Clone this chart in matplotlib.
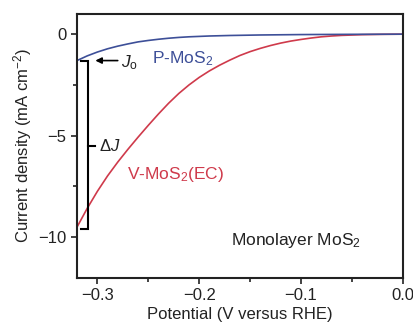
import matplotlib
matplotlib.use("Agg")
import matplotlib.pyplot as plt
from matplotlib.ticker import MultipleLocator

plt.rcParams["font.family"] = ["Liberation Sans", "DejaVu Sans"]
plt.rcParams["mathtext.fontset"] = "custom"
plt.rcParams["mathtext.rm"] = "Liberation Sans"
plt.rcParams["mathtext.it"] = "Liberation Sans:italic"

# data (V vs RHE, mA cm^-2)
v_mos2_ec_V = [-0.32, -0.31, -0.30, -0.29, -0.28, -0.27, -0.26, -0.25, -0.24, -0.23,
               -0.22, -0.21, -0.20, -0.19, -0.18, -0.17, -0.16, -0.15, -0.14, -0.13,
               -0.12, -0.11, -0.10, -0.09, -0.08, -0.07, -0.06, -0.04, -0.02, 0.0]
v_mos2_ec_J = [-9.5, -8.58, -7.74, -6.98, -6.30, -5.67, -5.07, -4.49, -3.93, -3.40,
               -2.92, -2.50, -2.13, -1.81, -1.53, -1.28, -1.05, -0.86, -0.70, -0.56,
               -0.44, -0.34, -0.26, -0.19, -0.13, -0.09, -0.06, -0.025, -0.008, 0.0]
p_mos2_V = [-0.32, -0.31, -0.30, -0.29, -0.28, -0.27, -0.26, -0.25, -0.24, -0.23,
            -0.22, -0.21, -0.19, -0.17, -0.14, -0.10, -0.05, 0.0]
p_mos2_J = [-1.3, -1.07, -0.88, -0.72, -0.59, -0.48, -0.38, -0.31, -0.25, -0.20,
            -0.16, -0.13, -0.09, -0.065, -0.04, -0.02, -0.008, 0.0]

j0 = -1.3
j_ec = -9.6
x_ticks = [-0.3, -0.2, -0.1, 0.0]
x_ticklabels = ["\u22120.3", "\u22120.2", "\u22120.1", "0.0"]
y_ticks = [-10, -5, 0]
y_ticklabels = ["\u221210", "\u22125", "0"]

BLUE = "#3d4f98"
RED = "#cf3a4b"
INK = "#222222"

fig = plt.figure(figsize=(4.14, 3.30), dpi=100)
ax = fig.add_axes([0.186, 0.158, 0.787, 0.800])

ax.plot(v_mos2_ec_V, v_mos2_ec_J, color=RED, lw=1.2)
ax.plot(p_mos2_V, p_mos2_J, color=BLUE, lw=1.2)

# delta J bracket
bx = -0.309
ax.plot([-0.3165, bx, bx, -0.3165], [j0, j0, j_ec, j_ec], color="black", lw=1.5,
        clip_on=False, solid_joinstyle="miter")
jm = -5.5
ax.plot([bx, -0.302], [jm, jm], color="black", lw=1.5)
ax.text(-0.2985, jm, r"$\Delta J$", fontsize=12, va="center", ha="left", color=INK)

# J0 arrow
ax.annotate("", xy=(-0.302, j0), xytext=(-0.280, j0),
            arrowprops=dict(arrowstyle="-|>", color="black", lw=1.2,
                            mutation_scale=9, shrinkA=0, shrinkB=0))
ax.text(-0.2765, j0 - 0.1, r"$J_\mathrm{o}$", fontsize=12.5, va="center", ha="left",
        color=INK)

ax.text(-0.246, -1.2, r"P-MoS$_2$", color=BLUE, fontsize=12.5, va="center", ha="left")
ax.text(-0.271, -6.9, r"V-MoS$_2$(EC)", color=RED, fontsize=12.5, va="center", ha="left")
ax.text(-0.169, -10.15, r"Monolayer MoS$_2$", color=INK, fontsize=12.5,
        va="center", ha="left")

ax.set_xlim(-0.32, 0.0)
ax.set_ylim(-12, 1)
ax.set_xticks(x_ticks)
ax.set_xticklabels(x_ticklabels)
ax.set_yticks(y_ticks)
ax.set_yticklabels(y_ticklabels)
ax.xaxis.set_minor_locator(MultipleLocator(0.05))
ax.yaxis.set_minor_locator(MultipleLocator(2.5))
ax.tick_params(which="both", direction="out", width=1.2, labelsize=12, colors=INK)
ax.tick_params(which="major", length=4)
ax.tick_params(which="minor", length=3)
for s in ax.spines.values():
    s.set_linewidth(1.5)
    s.set_color(INK)

ax.set_xlabel("Potential (V versus RHE)", fontsize=12, color=INK, labelpad=3)
ax.set_ylabel(r"Current density (mA cm$^{-2}$)", fontsize=12, color=INK, labelpad=3)

fig.savefig("out.png", dpi=100)
